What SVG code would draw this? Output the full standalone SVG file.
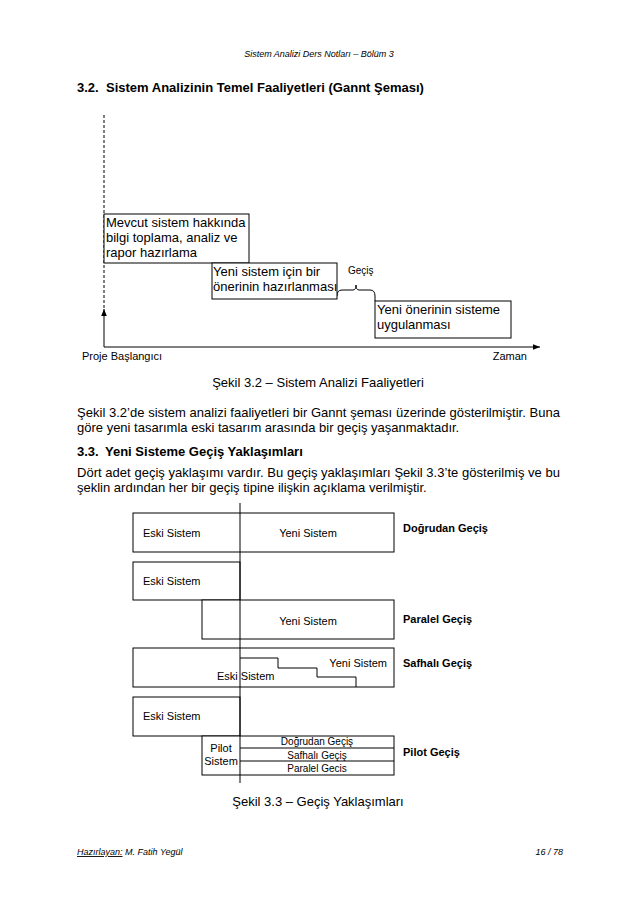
<svg xmlns="http://www.w3.org/2000/svg" width="638" height="903" viewBox="0 0 638 903">
<defs>
<style>
text{font-family:"Liberation Sans",Arial,sans-serif;fill:#000}
.hdr{font-size:9px;font-style:italic}
.h{font-size:13px;font-weight:bold}
.p{font-size:13px}
.bx{font-size:13px}
.sm{font-size:11px}
.xs{font-size:10px}
.lb{font-size:11px;font-weight:bold}
.box{fill:#fff;stroke:#000;stroke-width:1}
.ln{fill:none;stroke:#000;stroke-width:1}
</style>
<marker id="ah" viewBox="0 0 10 10" refX="10" refY="5" markerWidth="7" markerHeight="7" orient="auto" markerUnits="userSpaceOnUse">
<path d="M0,1 L10,5 L0,9 z" fill="#000"/>
</marker>
</defs>
<rect width="638" height="903" fill="#fff"/>

<text class="hdr" x="319" y="57" text-anchor="middle">Sistem Analizi Ders Notları – Bölüm 3</text>
<text class="h" x="77" y="92">3.2.</text>
<text class="h" x="106" y="92">Sistem Analizinin Temel Faaliyetleri (Gannt Şeması)</text>

<!-- Gantt chart -->
<g id="axes">
<line class="ln" x1="104" y1="115" x2="104" y2="310" stroke-dasharray="3,2"/>
<line class="ln" x1="104" y1="347" x2="104" y2="309" marker-end="url(#ah)"/>
<line class="ln" x1="104" y1="347" x2="540" y2="347" marker-end="url(#ah)"/>
<path class="ln" d="M337,296 Q337,290 342,290 L353,290 Q356,290 356,285 Q356,290 359,290 L370,290 Q375,290 375,296 L375,301"/>
</g>
<g id="task1">
<rect class="box" x="104" y="214" width="145" height="49"/>
<text class="bx" x="106" y="227">Mevcut sistem hakkında</text>
<text class="bx" x="106" y="242">bilgi toplama, analiz ve</text>
<text class="bx" x="106" y="257">rapor hazırlama</text>
</g>
<g id="task2">
<rect class="box" x="212" y="263" width="125" height="36"/>
<text class="bx" x="213" y="276">Yeni sistem için bir</text>
<text class="bx" x="213" y="291">önerinin hazırlanması</text>
</g>
<g id="task3">
<rect class="box" x="375" y="301" width="136" height="37"/>
<text class="bx" x="377" y="314">Yeni önerinin sisteme</text>
<text class="bx" x="377" y="329">uygulanması</text>
</g>
<text class="xs" x="348" y="274">Geçiş</text>
<text class="sm" x="82" y="360">Proje Başlangıcı</text>
<text class="sm" x="527" y="360" text-anchor="end">Zaman</text>

<text class="p" x="318" y="387" text-anchor="middle">Şekil 3.2 – Sistem Analizi Faaliyetleri</text>
<text class="p" x="77" y="417" textLength="483" lengthAdjust="spacing">Şekil 3.2’de sistem analizi faaliyetleri bir Gannt şeması üzerinde gösterilmiştir. Buna</text>
<text class="p" x="77" y="432">göre yeni tasarımla eski tasarım arasında bir geçiş yaşanmaktadır.</text>
<text class="h" x="77" y="456">3.3.</text>
<text class="h" x="105" y="456">Yeni Sisteme Geçiş Yaklaşımları</text>
<text class="p" x="77" y="477" textLength="483" lengthAdjust="spacing">Dört adet geçiş yaklaşımı vardır. Bu geçiş yaklaşımları Şekil 3.3’te gösterilmiş ve bu</text>
<text class="p" x="77" y="492">şeklin ardından her bir geçiş tipine ilişkin açıklama verilmiştir.</text>

<!-- Figure 3.3 -->
<g id="dogrudan">
<rect class="box" x="133" y="513" width="261" height="39"/>
<text class="sm" x="143" y="537">Eski Sistem</text>
<text class="sm" x="308" y="537" text-anchor="middle">Yeni Sistem</text>
<text class="lb" x="403" y="532">Doğrudan Geçiş</text>
</g>
<g id="paralel">
<rect class="box" x="133" y="562" width="107" height="38"/>
<text class="sm" x="143" y="585">Eski Sistem</text>
<rect class="box" x="202" y="600" width="192" height="39"/>
<text class="sm" x="308" y="625" text-anchor="middle">Yeni Sistem</text>
<text class="lb" x="403" y="623">Paralel Geçiş</text>
</g>
<g id="safhali">
<rect class="box" x="133" y="648" width="261" height="39"/>
<path class="ln" d="M240,658 H278 V668 H317 V677 H356 V687"/>
<text class="sm" x="387" y="667" text-anchor="end">Yeni Sistem</text>
<text class="sm" x="217" y="680">Eski Sistem</text>
<text class="lb" x="403" y="667">Safhalı Geçiş</text>
</g>
<g id="pilot">
<rect class="box" x="133" y="697" width="107" height="39"/>
<text class="sm" x="143" y="720">Eski Sistem</text>
<rect class="box" x="202" y="736" width="192" height="39"/>
<line class="ln" x1="240" y1="748" x2="394" y2="748"/>
<line class="ln" x1="240" y1="761" x2="394" y2="761"/>
<text class="sm" x="221" y="752" text-anchor="middle">Pilot</text>
<text class="sm" x="221" y="765" text-anchor="middle">Sistem</text>
<text class="xs" x="317" y="745" text-anchor="middle">Doğrudan Geçiş</text>
<text class="xs" x="317" y="759" text-anchor="middle">Safhalı Geçiş</text>
<text class="xs" x="317" y="772" text-anchor="middle">Paralel Gecis</text>
<text class="lb" x="403" y="756">Pilot Geçiş</text>
</g>
<g id="connectors">
<line class="ln" x1="240" y1="503" x2="240" y2="783"/>
</g>

<text class="p" x="318" y="806" text-anchor="middle">Şekil 3.3 – Geçiş Yaklaşımları</text>
<text class="hdr" x="77" y="855"><tspan text-decoration="underline">Hazırlayan:</tspan> M. Fatih Yegül</text>
<text class="hdr" x="563" y="855" text-anchor="end">16 / 78</text>
</svg>
